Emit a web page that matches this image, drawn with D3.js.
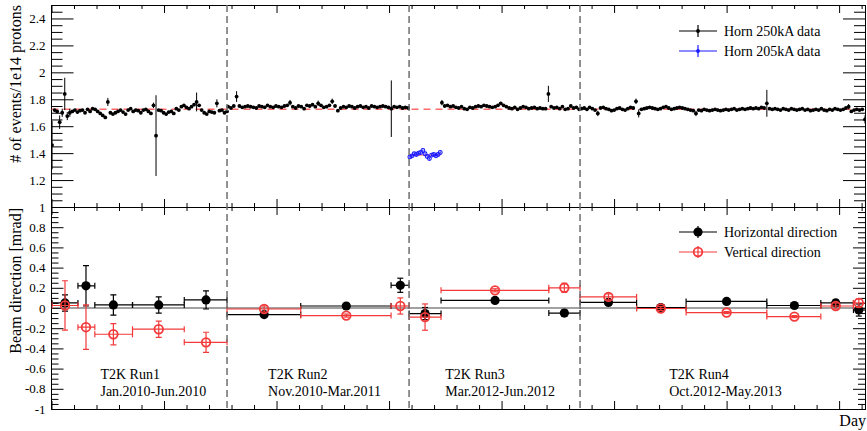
<!DOCTYPE html>
<html><head><meta charset="utf-8">
<script src="https://cdn.jsdelivr.net/npm/d3@7"></script>
<style>body{margin:0;background:#fff}svg{display:block}text{font-family:"Liberation Serif","Times New Roman",serif;fill:#000}</style>
</head><body><svg id="c" width="867" height="431"></svg>
<script>
// ---------------- DATA ----------------
const dayMax = 1446;
const runBoundaries = [312, 635.6, 939.5];
const meanTop = 1.725;
const blueMean = 1.385;

// Horn 250kA data, run 1 (day span, values, [index, error] of the larger error bars)
const run1Span = [1, 312];
const run1Vals = [1.46,1.72,1.71,1.63,1.70,1.84,1.675,1.70,1.71,1.72,1.705,1.715,1.72,1.70,1.725,1.71,1.73,1.725,1.71,1.695,
  1.68,1.665,1.78,1.70,1.69,1.70,1.71,1.72,1.705,1.69,1.72,1.73,1.71,1.72,1.715,1.70,1.72,1.725,1.71,1.695,
  1.755,1.53,1.72,1.715,1.70,1.69,1.705,1.71,1.695,1.73,1.72,1.745,1.755,1.74,1.73,1.745,1.76,1.78,1.755,1.72,
  1.70,1.69,1.71,1.705,1.70,1.77,1.715,1.72,1.70,1.71];
const run1Err = [[0,0.18],[3,0.05],[4,0.03],[5,0.12],[6,0.03],[7,0.03],[22,0.03],[41,0.30],[40,0.02],[57,0.07],[65,0.03]];

const run2Span = [314, 634];
const run2Vals = [1.745,1.735,1.75,1.82,1.75,1.74,1.745,1.75,1.745,1.74,1.735,1.75,1.745,1.74,1.755,1.745,1.74,1.75,1.745,1.74,
  1.75,1.755,1.775,1.745,1.735,1.75,1.745,1.73,1.755,1.75,1.76,1.745,1.77,1.755,1.74,1.745,1.755,1.785,1.75,1.715,
  1.735,1.745,1.74,1.75,1.745,1.735,1.745,1.75,1.74,1.745,1.735,1.75,1.745,1.74,1.745,1.75,1.745,1.74,1.73,1.745,
  1.74,1.745,1.735,1.74,1.735];
const run2Err = [[3,0.04],[22,0.02],[32,0.02],[37,0.02],[58,0.21]];

// Horn 205kA data
const blueSpan = [637, 691];
const blueVals = [1.372,1.38,1.395,1.39,1.40,1.405,1.42,1.395,1.375,1.36,1.385,1.39,1.38,1.39,1.405];

const run3Span = [694, 938];
const run3Vals = [1.775,1.75,1.755,1.745,1.75,1.74,1.735,1.745,1.73,1.725,1.74,1.735,1.745,1.75,1.745,1.755,1.75,1.745,1.74,1.745,
  1.755,1.77,1.755,1.745,1.735,1.73,1.74,1.725,1.735,1.745,1.74,1.73,1.735,1.74,1.73,1.735,1.73,1.73,1.84,1.745,
  1.735,1.74,1.73,1.745,1.725,1.73,1.75,1.735,1.74,1.725];
const run3Err = [[0,0.02],[38,0.06]];

const run4Span = [942, 1446];
const run4Vals = [1.73,1.735,1.725,1.74,1.73,1.72,1.695,1.735,1.74,1.73,1.725,1.715,1.72,1.73,1.735,1.725,1.72,1.73,1.74,1.735,
  1.785,1.695,1.725,1.73,1.735,1.74,1.735,1.73,1.725,1.73,1.74,1.745,1.735,1.725,1.73,1.735,1.74,1.735,1.73,1.725,
  1.72,1.715,1.695,1.72,1.715,1.725,1.72,1.715,1.72,1.725,1.72,1.715,1.72,1.725,1.72,1.725,1.73,1.72,1.725,1.73,
  1.725,1.73,1.735,1.73,1.735,1.73,1.74,1.735,1.77,1.73,1.725,1.73,1.725,1.72,1.73,1.725,1.72,1.73,1.725,1.72,
  1.725,1.73,1.72,1.725,1.715,1.72,1.725,1.72,1.73,1.72,1.715,1.725,1.72,1.73,1.725,1.72,1.725,1.735,1.745,1.71,
  1.72,1.725,1.72,1.725,1.65];
const run4Err = [[6,0.02],[20,0.02],[21,0.03],[42,0.02],[68,0.10],[98,0.02],[104,0.03]];

// Beam direction bins (days)
const binLo     = [1,47,77,144,236,312,443,603.6,635.6,692.4,884,939.5,1040,1128,1271.5,1367.5,1425.5];
const binHi     = [47,77,144,236,312,443,603.6,635.6,692.4,884,939.5,1040,1128,1271.5,1367.5,1425.5,1452];
const binCenter = [24,61.3,110,190.6,274.7,378,524,620,664,788.4,911.6,990,1083,1200,1320.5,1394,1435];
const horiz     = [0.05,0.22,0.03,0.03,0.08,-0.065,0.02,0.225,-0.055,0.075,-0.05,0.055,0.005,0.065,0.025,0.05,-0.02];
const horizErr  = [0.08,0.20,0.10,0.08,0.09,0.02,0.015,0.07,0.06,0.01,0.03,0.015,0.02,0.01,0.01,0.03,0.06];
const vert      = [0.025,-0.19,-0.26,-0.21,-0.34,-0.01,-0.075,0.02,-0.09,0.175,0.20,0.11,-0.005,-0.045,-0.085,0.02,0.05];
const vertErr   = [0.245,0.22,0.105,0.08,0.10,0.03,0.015,0.08,0.13,0.015,0.045,0.03,0.02,0.01,0.01,0.03,0.04];

const runLabels = ["T2K Run1","T2K Run2","T2K Run3","T2K Run4"];
const runPeriods = ["Jan.2010-Jun.2010","Nov.2010-Mar.2011","Mar.2012-Jun.2012","Oct.2012-May.2013"];
const runLabelDay = [87, 385, 700, 1098];

const topLegend = ["Horn 250kA data","Horn 205kA data"];
const botLegend = ["Horizontal direction","Vertical direction"];
const topYTitle = "# of events/1e14 protons";
const botYTitle = "Beam direction [mrad]";
const xTitle = "Day";

// ---------------- LAYOUT ----------------
const X0 = 51.5, X1 = 865, T0 = 5, MID = 207, B1 = 409;
const svg = d3.select("#c");
const x = d3.scaleLinear().domain([0, dayMax]).range([X0, X1]);
const yT = d3.scaleLinear().domain([1, 2.5]).range([MID, T0]);
const yB = d3.scaleLinear().domain([-1, 1]).range([B1, MID]);
const RED = "#f23a3a", BLUE = "#1a1aff";
const fmt = d => String(+(+d).toFixed(1));

svg.append("defs").call(d => {
  d.append("clipPath").attr("id","clipT").append("rect").attr("x",X0).attr("y",T0).attr("width",X1-X0).attr("height",MID-T0);
  d.append("clipPath").attr("id","clipB").append("rect").attr("x",X0).attr("y",MID).attr("width",X1-X0).attr("height",B1-MID);
});

function styleAxis(g){ g.selectAll("path,line").attr("stroke","#000").attr("stroke-width",1); g.selectAll("text").attr("font-size",13).attr("font-family","Liberation Serif"); }

function yAxes(y, majors, minors, majLen, minLen, labels){
  svg.append("g").attr("transform",`translate(${X0},0)`)
    .call(d3.axisLeft(y).tickValues(majors).tickSize(-majLen).tickSizeOuter(0).tickPadding(6).tickFormat(labels ? fmt : ""))
    .call(styleAxis).call(g=>g.select(".domain").remove());
  svg.append("g").attr("transform",`translate(${X0},0)`)
    .call(d3.axisLeft(y).tickValues(minors).tickSize(-minLen).tickSizeOuter(0).tickFormat(""))
    .call(styleAxis).call(g=>g.select(".domain").remove());
  svg.append("g").attr("transform",`translate(${X1},0)`)
    .call(d3.axisRight(y).tickValues(majors).tickSize(-majLen).tickSizeOuter(0).tickFormat(""))
    .call(styleAxis).call(g=>g.select(".domain").remove());
  svg.append("g").attr("transform",`translate(${X1},0)`)
    .call(d3.axisRight(y).tickValues(minors).tickSize(-minLen).tickSizeOuter(0).tickFormat(""))
    .call(styleAxis).call(g=>g.select(".domain").remove());
}
const xMaj = d3.range(0, 8).map(i => i*200);
const xMin = d3.range(0, 37).map(i => i*40).filter(v => v % 200 !== 0 && v <= dayMax);
function xAxis(yPix, dir){
  const mk = dir === "top" ? d3.axisTop : d3.axisBottom;
  [[xMaj,8],[xMin,4]].forEach(([vals,len]) => {
    svg.append("g").attr("transform",`translate(0,${yPix})`)
      .call(mk(x).tickValues(vals).tickSize(-len).tickSizeOuter(0).tickFormat(""))
      .call(styleAxis).call(g=>g.select(".domain").remove());
  });
}

// top panel axes
const topMaj = d3.range(1, 8).map(i => 1 + i*0.2);
const topMin = d3.range(1, 30).map(i => 1 + i*0.05).filter((v,i) => (i+1) % 4 !== 0);
yAxes(yT, topMaj, topMin, 22, 11, true);
xAxis(T0, "top"); xAxis(MID, "bottom");
// bottom panel axes
const botMaj = d3.range(-5, 6).map(i => i*0.2);
const botMin = d3.range(-19, 20).map(i => i*0.05).filter((v,i) => ((i-19) % 4 + 4) % 4 !== 0 ? true : false);
yAxes(yB, botMaj, d3.range(-19,20).filter(i => i % 4 !== 0).map(i => i*0.05), 12, 7, true);
xAxis(MID, "top"); xAxis(B1, "bottom");

// frames
svg.append("rect").attr("x",X0).attr("y",T0).attr("width",X1-X0).attr("height",MID-T0).attr("fill","none").attr("stroke","#000").attr("shape-rendering","crispEdges");
svg.append("rect").attr("x",X0).attr("y",MID).attr("width",X1-X0).attr("height",B1-MID).attr("fill","none").attr("stroke","#000").attr("shape-rendering","crispEdges");

// ---------------- TOP PANEL ----------------
const gT = svg.append("g").attr("clip-path","url(#clipT)");
gT.append("line").attr("x1",x(0)).attr("x2",x(dayMax)).attr("y1",yT(meanTop)).attr("y2",yT(meanTop))
  .attr("stroke","#ff6b6b").attr("stroke-width",1.5).attr("stroke-dasharray","7,5");
gT.append("line").attr("x1",x(blueSpan[0])).attr("x2",x(blueSpan[1])).attr("y1",yT(blueMean)).attr("y2",yT(blueMean))
  .attr("stroke","#ff8080").attr("stroke-width",1.2);

function buildPts(span, vals, errs){
  const m = new Map(errs || []);
  const n = vals.length;
  return vals.map((v,i) => ({d: span[0] + (span[1]-span[0]) * i/(n-1), v, e: m.has(i) ? m.get(i) : 0.008}));
}
const blackPts = [].concat(
  buildPts(run1Span, run1Vals, run1Err), buildPts(run2Span, run2Vals, run2Err),
  buildPts(run3Span, run3Vals, run3Err), buildPts(run4Span, run4Vals, run4Err));
const bluePts = buildPts(blueSpan, blueVals, []);

gT.selectAll(".eb").data(blackPts).join("line").attr("x1",d=>x(d.d)).attr("x2",d=>x(d.d))
  .attr("y1",d=>yT(d.v-d.e)).attr("y2",d=>yT(d.v+d.e)).attr("stroke","#000").attr("stroke-width",1);
gT.selectAll(".bp").data(blackPts).join("circle").attr("cx",d=>x(d.d)).attr("cy",d=>yT(d.v)).attr("r",1.9).attr("fill","#000");
gT.selectAll(".ebb").data(bluePts).join("line").attr("x1",d=>x(d.d)).attr("x2",d=>x(d.d))
  .attr("y1",d=>yT(d.v-d.e)).attr("y2",d=>yT(d.v+d.e)).attr("stroke",BLUE).attr("stroke-width",1);
gT.selectAll(".blp").data(bluePts).join("circle").attr("cx",d=>x(d.d)).attr("cy",d=>yT(d.v)).attr("r",1.9)
  .attr("fill","none").attr("stroke",BLUE).attr("stroke-width",1.1);

// ---------------- BOTTOM PANEL ----------------
const gB = svg.append("g").attr("clip-path","url(#clipB)");
gB.append("line").attr("x1",x(0)).attr("x2",x(dayMax)).attr("y1",yB(0)).attr("y2",yB(0)).attr("stroke","#444").attr("stroke-width",1.2);

function series(vals, errs, color, open){
  const g = gB.append("g");
  const cap = 3;
  vals.forEach((v,i) => {
    const cx = x(binCenter[i]), cy = yB(v);
    const xl = x(binLo[i]), xh = x(binHi[i]);
    g.append("line").attr("x1",xl).attr("x2",xh).attr("y1",cy).attr("y2",cy).attr("stroke",color).attr("stroke-width",1.2);
    g.append("line").attr("x1",xl).attr("x2",xl).attr("y1",cy-cap).attr("y2",cy+cap).attr("stroke",color).attr("stroke-width",1.2);
    g.append("line").attr("x1",xh).attr("x2",xh).attr("y1",cy-cap).attr("y2",cy+cap).attr("stroke",color).attr("stroke-width",1.2);
    const y1 = yB(v-errs[i]), y2 = yB(v+errs[i]);
    g.append("line").attr("x1",cx).attr("x2",cx).attr("y1",y1).attr("y2",y2).attr("stroke",color).attr("stroke-width",1.2);
    g.append("line").attr("x1",cx-cap).attr("x2",cx+cap).attr("y1",y1).attr("y2",y1).attr("stroke",color).attr("stroke-width",1.2);
    g.append("line").attr("x1",cx-cap).attr("x2",cx+cap).attr("y1",y2).attr("y2",y2).attr("stroke",color).attr("stroke-width",1.2);
  });
  g.selectAll("circle").data(vals).join("circle").attr("cx",(d,i)=>x(binCenter[i])).attr("cy",d=>yB(d))
    .attr("r",open ? 4.3 : 4.6).attr("fill",open ? "none" : color).attr("stroke",open ? color : "none").attr("stroke-width",1.8);
}
series(horiz, horizErr, "#000", false);
series(vert, vertErr, RED, true);

// run boundaries
svg.selectAll(".rb").data(runBoundaries).join("line").attr("x1",d=>x(d)).attr("x2",d=>x(d)).attr("y1",T0).attr("y2",B1)
  .attr("stroke","#6e6e6e").attr("stroke-width",1.5).attr("stroke-dasharray","7,4");

// run labels
runLabels.forEach((t,i) => {
  svg.append("text").attr("x",x(runLabelDay[i])).attr("y",379).attr("font-size",14).text(t);
  svg.append("text").attr("x",x(runLabelDay[i])).attr("y",396).attr("font-size",14).text(runPeriods[i]);
});

// legends
function legendRow(y, color, label, big, open){
  svg.append("line").attr("x1",679).attr("x2",717).attr("y1",y).attr("y2",y).attr("stroke",color).attr("stroke-width",1.2);
  svg.append("line").attr("x1",698).attr("x2",698).attr("y1",y-6).attr("y2",y+6).attr("stroke",color).attr("stroke-width",1.2);
  svg.append("circle").attr("cx",698).attr("cy",y).attr("r",big ? (open?4.3:4.6) : 1.9)
    .attr("fill",open ? "none" : color).attr("stroke",open ? color : "none").attr("stroke-width",1.8);
  svg.append("text").attr("x",724).attr("y",y+5).attr("font-size",14).text(label);
}
legendRow(31, "#000", topLegend[0], false, false);
legendRow(51, BLUE, topLegend[1], false, false);
legendRow(232, "#000", botLegend[0], true, false);
legendRow(252, RED, botLegend[1], true, true);

// titles
svg.append("text").attr("transform","translate(21,5) rotate(-90)").attr("text-anchor","end").attr("font-size",16).text(topYTitle);
svg.append("text").attr("transform","translate(21,208) rotate(-90)").attr("text-anchor","end").attr("font-size",16).text(botYTitle);
svg.append("text").attr("x",866).attr("y",426).attr("text-anchor","end").attr("font-size",16).text(xTitle);
</script></body></html>
